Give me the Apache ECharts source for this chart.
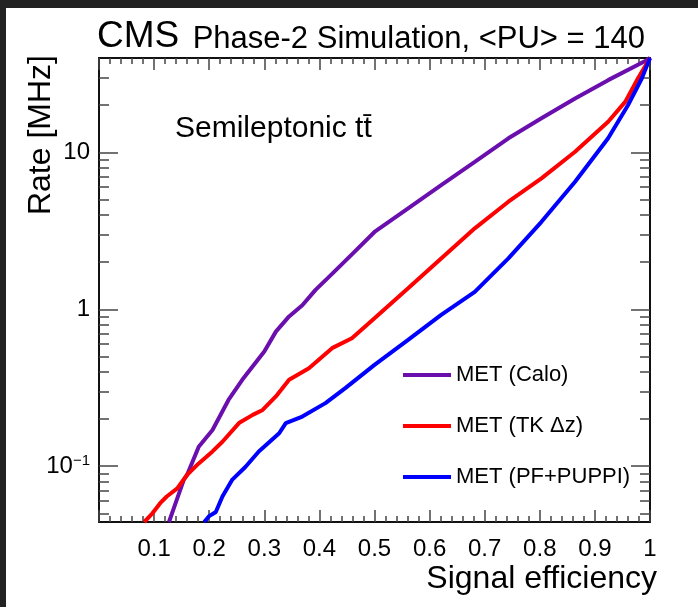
<!DOCTYPE html>
<html>
<head>
<meta charset="utf-8">
<script src="https://cdn.jsdelivr.net/npm/echarts@6/dist/echarts.min.js"></script>
<style>
  html, body { margin: 0; padding: 0; background: #fff; }
  #chart { width: 698px; height: 607px; }
</style>
</head>
<body>
<div id="chart"></div>
<script>
// ---- data ----
const effCalo  = [0.127, 0.139, 0.154, 0.160, 0.181, 0.206, 0.235, 0.260, 0.300, 0.321, 0.345, 0.369, 0.393, 0.423, 0.459, 0.500, 0.561, 0.621, 0.682, 0.743, 0.803, 0.864, 0.924, 0.994, 1.0];
const rateCalo = [0.044, 0.058, 0.082, 0.088, 0.133, 0.170, 0.264, 0.355, 0.537, 0.72, 0.90, 1.06, 1.33, 1.68, 2.24, 3.11, 4.40, 6.19, 8.71, 12.3, 16.5, 22.1, 28.9, 38.7, 40];

const effTK  = [0.082, 0.097, 0.111, 0.123, 0.142, 0.160, 0.181, 0.206, 0.224, 0.254, 0.279, 0.297, 0.321, 0.345, 0.381, 0.423, 0.459, 0.500, 0.561, 0.621, 0.682, 0.743, 0.803, 0.864, 0.924, 0.955, 0.978, 1.0];
const rateTK = [0.044, 0.050, 0.058, 0.064, 0.072, 0.088, 0.104, 0.124, 0.143, 0.188, 0.212, 0.228, 0.278, 0.355, 0.421, 0.565, 0.654, 0.877, 1.36, 2.11, 3.28, 4.85, 6.83, 10.1, 15.7, 21.0, 29.6, 40];

const effPF  = [0.191, 0.200, 0.212, 0.224, 0.242, 0.266, 0.290, 0.327, 0.339, 0.369, 0.411, 0.447, 0.500, 0.561, 0.621, 0.682, 0.743, 0.803, 0.864, 0.924, 0.960, 0.985, 1.0];
const ratePF = [0.044, 0.048, 0.051, 0.064, 0.082, 0.099, 0.124, 0.162, 0.188, 0.207, 0.252, 0.314, 0.442, 0.637, 0.92, 1.29, 2.11, 3.61, 6.50, 12.3, 20.0, 29.6, 40];

const seriesNames = ['MET (Calo)', 'MET (TK \u0394z)', 'MET (PF+PUPPI)'];
const yMajorTicks = [0.1, 1, 10];
const yMinorTicks = [0.05, 0.06, 0.07, 0.08, 0.09, 0.2, 0.3, 0.4, 0.5, 0.6, 0.7, 0.8, 0.9, 2, 3, 4, 5, 6, 7, 8, 9, 20, 30];
const yMin = 0.044, yMax = 40;

// ---- chart ----
const FONT = 'Liberation Sans, Arial, Helvetica, sans-serif';
const colors = ['#6a0fae', '#ff0000', '#0000ff'];
const L0 = Math.log10(yMin), L1 = Math.log10(yMax);
const zip = (a, b) => a.map((v, i) => [v, b[i]]);

const chart = echarts.init(document.getElementById('chart'), null, { renderer: 'canvas' });

const tickStyle = { color: '#444', width: 1.5 };
const frameLine = { show: true, onZero: false, lineStyle: { color: '#111', width: 2 } };

function overlayY(position, values, len, withLine, withLabels) {
  return {
    type: 'value', position: position, min: L0, max: L1,
    axisLine: withLine ? frameLine : { show: false, onZero: false },
    splitLine: { show: false },
    axisTick: { show: true, inside: true, length: len, lineStyle: tickStyle,
                customValues: values.map(v => Math.log10(v)) },
    axisLabel: withLabels ? {
      show: true, margin: 9, customValues: values.map(v => Math.log10(v)),
      formatter: function (v) {
        const r = Math.round(v);
        if (r === -1) return '{b|10}{s|\u22121}';
        if (r === 0) return '{b|1}';
        return '{b|10}';
      },
      rich: {
        b: { fontFamily: FONT, fontSize: 24, color: '#000', lineHeight: 26 },
        s: { fontFamily: FONT, fontSize: 15, color: '#000', verticalAlign: 'top', lineHeight: 16 }
      }
    } : { show: false }
  };
}

function xAxisDef(position, withLabels) {
  return {
    type: 'value', position: position, min: 0, max: 1, interval: 0.1,
    axisLine: frameLine,
    splitLine: { show: false },
    axisTick: { show: true, inside: true, length: 12, lineStyle: tickStyle },
    minorTick: { show: true, splitNumber: 5, length: 6, lineStyle: tickStyle },
    axisLabel: withLabels ? {
      show: true, margin: 15, showMinLabel: false,
      fontFamily: FONT, fontSize: 24, color: '#000',
      formatter: v => (Math.abs(v - 1) < 1e-9 ? '1' : v.toFixed(1))
    } : { show: false }
  };
}

const option = {
  backgroundColor: '#222',
  animation: false,
  grid: { left: 99, right: 48, top: 58, bottom: 85 },
  xAxis: [ xAxisDef('bottom', true), xAxisDef('top', false) ],
  yAxis: [
    {
      type: 'log', logBase: 10, min: yMin, max: yMax, position: 'left',
      axisLine: { show: false, onZero: false }, axisTick: { show: false },
      axisLabel: { show: false }, splitLine: { show: false }
    },
    overlayY('left', yMajorTicks, 19, true, true),
    overlayY('left', yMinorTicks, 10, false, false),
    overlayY('right', yMajorTicks, 19, true, false),
    overlayY('right', yMinorTicks, 10, false, false)
  ],
  legend: {
    orient: 'vertical', left: 398, top: 357,
    itemWidth: 48, itemHeight: 4, itemGap: 25, icon: 'rect',
    textStyle: { fontFamily: FONT, fontSize: 22, color: '#000', lineHeight: 26 },
    data: seriesNames
  },
  graphic: [
    { type: 'rect', z: -100, silent: true, shape: { x: 6, y: 8, width: 698, height: 607 }, style: { fill: '#fff' } },
    { type: 'text', z: 10, style: { text: 'CMS', x: 97, y: 37, font: '37px ' + FONT, fill: '#000', textAlign: 'left', textVerticalAlign: 'middle' } },
    { type: 'text', z: 10, style: { text: 'Phase-2 Simulation, <PU> = 140', x: 645, y: 39, font: '31px ' + FONT, fill: '#000', textAlign: 'right', textVerticalAlign: 'middle' } },
    { type: 'text', z: 10, rotation: Math.PI / 2, x: 41, y: 55, style: { text: 'Rate [MHz]', x: 0, y: 0, font: '32px ' + FONT, fill: '#000', textAlign: 'right', textVerticalAlign: 'middle' } },
    { type: 'text', z: 10, style: { text: 'Signal efficiency', x: 657, y: 579, font: '32px ' + FONT, fill: '#000', textAlign: 'right', textVerticalAlign: 'middle' } },
    { type: 'text', z: 10, style: { text: 'Semileptonic tt\u0304', x: 175, y: 129, font: '30px ' + FONT, fill: '#000', textAlign: 'left', textVerticalAlign: 'middle' } }
  ],
  series: [
    { name: seriesNames[0], data: zip(effCalo, rateCalo), color: colors[0] },
    { name: seriesNames[1], data: zip(effTK, rateTK), color: colors[1] },
    { name: seriesNames[2], data: zip(effPF, ratePF), color: colors[2] }
  ].map(s => ({
    type: 'line', name: s.name, data: s.data, xAxisIndex: 0, yAxisIndex: 0,
    showSymbol: false, symbol: 'none', clip: true, z: 3,
    itemStyle: { color: s.color },
    lineStyle: { color: s.color, width: 4 }
  }))
};

chart.setOption(option);
</script>
</body>
</html>
